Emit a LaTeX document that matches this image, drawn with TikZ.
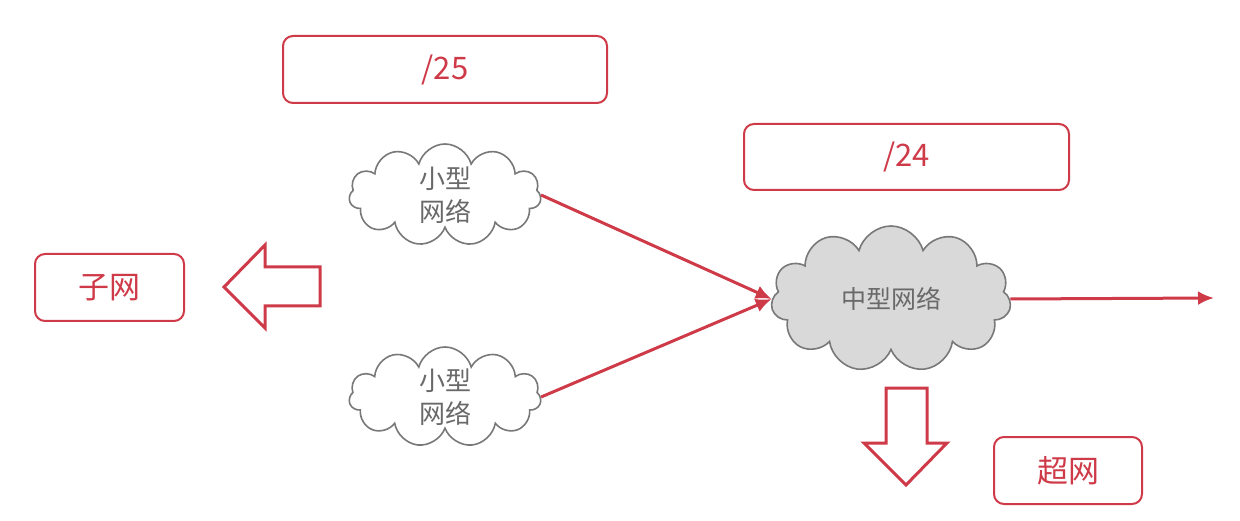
\documentclass[tikz,border=0pt]{standalone}
\usepackage{fontspec}
\setmainfont{Noto Sans CJK SC}
\usetikzlibrary{shapes.symbols,arrows.meta}
\definecolor{myred}{RGB}{206,58,72}
\definecolor{cloudgray}{RGB}{120,120,120}
\definecolor{cloudfill}{RGB}{217,217,217}
\definecolor{txtgray}{RGB}{105,105,105}
\tikzset{
  labelbox/.style={draw=myred, line width=2pt, rounded corners=10pt, text=myred, font=\fontsize{31}{34}\selectfont, inner sep=0pt},
  cloudnode/.style={cloud, cloud puffs=11, cloud ignores aspect, draw=cloudgray, line width=1.6pt, text=txtgray, font=\fontsize{26}{33}\selectfont, align=center, inner sep=0pt},
  link/.style={draw=myred, line width=3pt, -{Latex[length=16pt,width=14pt]}},
  blockarrow/.style={draw=myred, line width=3pt, fill=white, line join=miter}
}
\begin{document}
\begin{tikzpicture}[x=1pt,y=-1pt]
\useasboundingbox (0,0) rectangle (1240,521);
\node[labelbox, minimum width=324pt, minimum height=67pt] (b25) at (445,69.5) {/25};
\node[labelbox, minimum width=325pt, minimum height=66pt] (b24) at (906.5,157) {/24};
\node[labelbox, minimum width=149pt, minimum height=67pt] (bsub) at (109.5,287.5) {子网};
\node[labelbox, minimum width=148pt, minimum height=67pt] (bsup) at (1068,470.5) {超网};
\node[cloudnode, minimum width=192pt, minimum height=102pt] (c1) at (445,195) {小型\\网络};
\node[cloudnode, minimum width=192pt, minimum height=100pt] (c2) at (445,397) {小型\\网络};
\node[cloudnode, fill=cloudfill, font=\fontsize{25}{30}\selectfont, minimum width=240pt, minimum height=146pt] (c3) at (891,299) {中型网络};
\coordinate (out) at (1214,298);
\draw[link] (c1.east) -- (c3.west);
\draw[link] (c2.east) -- (c3.west);
\draw[link] (c3.east) -- (out);
% left block arrow
\draw[blockarrow] (224,287) -- (265,245) -- (265,267) -- (320,267) -- (320,306) -- (265,306) -- (265,328) -- cycle;
% down block arrow
\draw[blockarrow] (886,388) -- (927,388) -- (927,443) -- (947,443) -- (906,485) -- (864,443) -- (886,443) -- cycle;
\end{tikzpicture}
\end{document}
